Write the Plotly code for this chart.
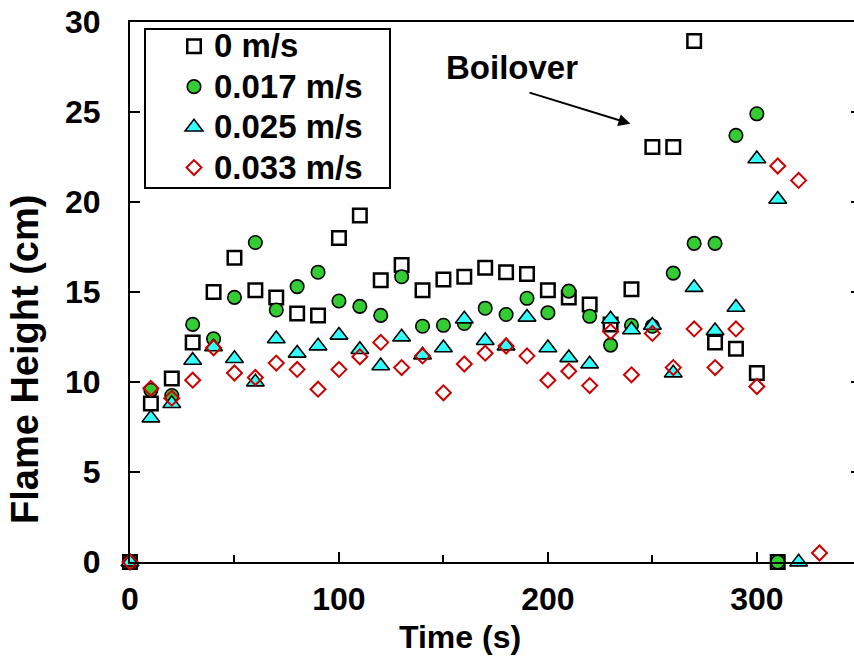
import plotly.graph_objects as go

time_s = [0, 10, 20, 30, 40, 50, 60, 70, 80, 90, 100, 110, 120, 130, 140, 150, 160,
          170, 180, 190, 200, 210, 220, 230, 240, 250, 260, 270, 280, 290, 300, 310, 320, 330]

h_0 = [0, 8.8, 10.2, 12.2, 15.0, 16.9, 15.1, 14.7, 13.8, 13.7, 18.0, 19.25, 15.65, 16.5,
       15.1, 15.7, 15.85, 16.35, 16.1, 16.0, 15.1, 14.7, 14.3, 13.2, 15.15, 23.05, 23.05,
       28.95, 12.2, 11.85, 10.5, 0]
h_017 = [0, 9.55, 9.25, 13.2, 12.4, 14.7, 17.75, 14.0, 15.3, 16.1, 14.5, 14.2, 13.7, 15.85,
         13.1, 13.15, 13.25, 14.1, 13.75, 14.65, 13.85, 15.05, 13.65, 12.05, 13.15, 13.1,
         16.05, 17.7, 17.7, 23.7, 24.9, 0]
h_025 = [0, 8.0, 8.8, 11.2, 11.95, 11.3, 10.0, 12.4, 11.6, 12.0, 12.6, 11.8, 10.9, 12.5,
         11.5, 11.9, 13.5, 12.3, 12.0, 13.6, 11.9, 11.35, 11.0, 13.5, 12.9, 13.15, 10.5,
         15.25, 12.85, 14.15, 22.4, 20.15, 0]
h_033 = [0, 9.65, 9.1, 10.1, 11.9, 10.5, 10.25, 11.05, 10.7, 9.6, 10.7, 11.4, 12.2, 10.8,
         11.45, 9.4, 11.0, 11.6, 12.0, 11.45, 10.1, 10.6, 9.8, 12.8, 10.4, 12.7, 10.8,
         12.95, 10.8, 12.95, 9.75, 22.0, 21.2, 0.5]

series_names = ["0 m/s", "0.017 m/s", "0.025 m/s", "0.033 m/s"]
x_ticks = [0, 100, 200, 300]
y_ticks = [0, 5, 10, 15, 20, 25, 30]

FONT = "Liberation Sans, Arial, sans-serif"
L, R, T, B = 130, 0, 22, 98
PW, PH = 854 - L - R, 660 - T - B


def px_x(p):
    return (p - L) / PW


def px_y(p):
    return (660 - B - p) / PH


def leg(name):
    return "<span style='font-size:33px'>" + name + "</span>"


fig = go.Figure()
fig.add_trace(go.Scatter(
    x=time_s[:len(h_0)], y=h_0, mode="markers", name=leg(series_names[0]), cliponaxis=False,
    marker=dict(symbol="square", size=13.5, color="white", line=dict(color="black", width=2.5))))
fig.add_trace(go.Scatter(
    x=time_s[:len(h_017)], y=h_017, mode="markers", name=leg(series_names[1]), cliponaxis=False,
    marker=dict(symbol="circle", size=13.5, color="#33CC33", line=dict(color="black", width=1.6))))
fig.add_trace(go.Scatter(
    x=time_s[:len(h_025)], y=h_025, mode="markers", name=leg(series_names[2]), cliponaxis=False,
    marker=dict(symbol="triangle-up", size=15.5, color="#33FFFF", line=dict(color="black", width=1.6))))
fig.add_trace(go.Scatter(
    x=time_s[:len(h_033)], y=h_033, mode="markers", name=leg(series_names[3]), cliponaxis=False,
    marker=dict(symbol="diamond-open", size=11.5, color="#CC0000", line=dict(color="#CC0000", width=2))))

fig.update_layout(
    width=854, height=660,
    margin=dict(l=L, r=R, t=T, b=B),
    plot_bgcolor="white", paper_bgcolor="white",
    font=dict(family=FONT, size=30, color="black"),
    showlegend=True,
    legend=dict(x=px_x(174), y=px_y(21), xanchor="left", yanchor="top",
                bgcolor="rgba(0,0,0,0)", borderwidth=0,
                font=dict(family=FONT, size=28.8, color="black", weight="bold"),
                tracegroupgap=0),
    xaxis=dict(range=[0, 346.5], tickvals=x_ticks, ticks="inside", ticklen=10, tickwidth=1.5,
               tickcolor="black", showline=True, linecolor="black", linewidth=2, mirror=True,
               showgrid=False, zeroline=False, ticklabelstandoff=8,
               tickfont=dict(family=FONT, size=32, weight="bold"),
               minor=dict(tickvals=[50, 150, 250], ticks="inside", ticklen=7, tickwidth=1.5,
                          tickcolor="black")),
    yaxis=dict(range=[0, 30], tickvals=y_ticks, ticks="inside", ticklen=10, tickwidth=1.5,
               tickcolor="black", showline=True, linecolor="black", linewidth=2,
               showgrid=False, zeroline=False, ticklabelstandoff=21,
               tickfont=dict(family=FONT, size=32, weight="bold")),
    yaxis2=dict(range=[0, 30], tickvals=y_ticks, overlaying="y", side="right", anchor="x",
                ticks="inside", ticklen=3, tickwidth=1.5, tickcolor="black",
                showticklabels=False, showline=False, showgrid=False, zeroline=False),
    shapes=[dict(type="rect", xref="paper", yref="paper", x0=px_x(145), x1=px_x(390),
                 y0=px_y(188), y1=px_y(29), line=dict(color="black", width=2))],
    annotations=[
        dict(text="<b>Time (s)</b>", xref="paper", yref="paper", x=px_x(460),
             y=px_y(637), xanchor="center", yanchor="middle", showarrow=False,
             font=dict(family=FONT, size=32)),
        dict(text="<b>Flame Height (cm)</b>", xref="paper", yref="paper", x=px_x(25),
             y=px_y(360), xanchor="center", yanchor="middle", showarrow=False,
             textangle=-90, font=dict(family=FONT, size=38)),
        dict(text="<b>Boilover</b>", x=183, y=27.5, xref="x", yref="y", showarrow=False,
             font=dict(family=FONT, size=33)),
        dict(text="", x=239.5, y=24.35, ax=190.5, ay=26.1, xref="x", yref="y",
             axref="x", ayref="y", showarrow=True, arrowhead=2, arrowsize=1.2,
             arrowwidth=2, arrowcolor="black"),
    ],
)
fig.add_trace(go.Scatter(x=[None], y=[None], yaxis="y2", showlegend=False, hoverinfo="skip"))

fig.write_html("out.html")
